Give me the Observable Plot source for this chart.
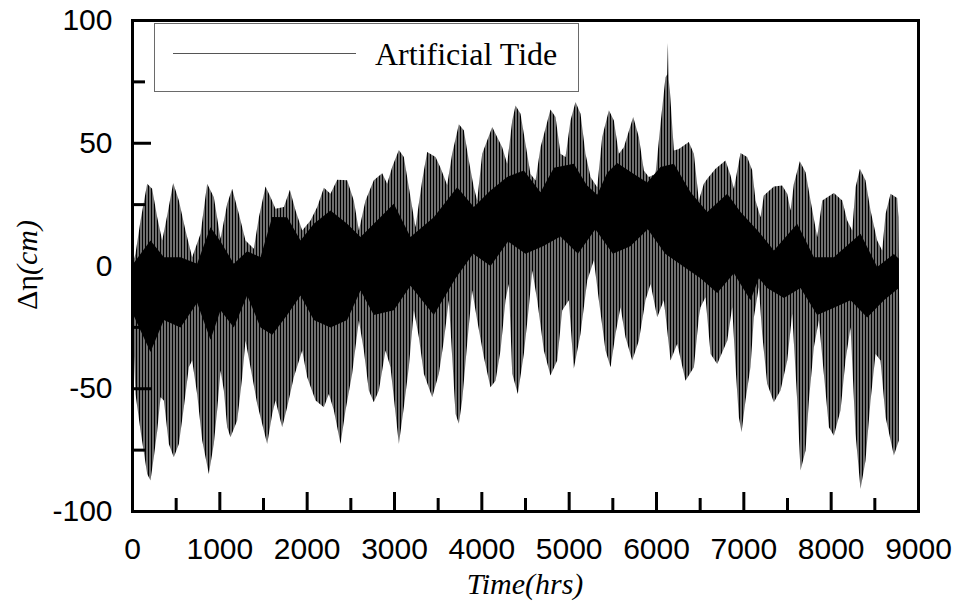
<!DOCTYPE html>
<html>
<head>
<meta charset="utf-8">
<script src="https://cdn.jsdelivr.net/npm/d3@7"></script>
<script src="https://cdn.jsdelivr.net/npm/@observablehq/plot@0.6"></script>
<style>
  body { margin: 0; background: #fff; }
  #wrap { position: relative; width: 959px; height: 605px; }
</style>
</head>
<body>
<div id="wrap"></div>
<script>
// Upper envelope of the tide signal [time (hrs), Δη (cm)]
const upperEnvelope = [[10,2],[34,5.0],[92,18.5],[168,33.5],[225,31.5],[283,19.9],[340,10.4],[397,20.6],[466,33.8],[531,26.7],[607,14.5],[683,3.6],[779,13.1],[855,33.5],[931,28.1],[1008,11.1],[1084,25.4],[1141,31.5],[1218,21.3],[1294,10.4],[1389,7.0],[1447,19.9],[1523,32.4],[1580,28.1],[1637,23.3],[1733,24.0],[1802,31.1],[1867,22.6],[1943,14.5],[2038,18.5],[2115,24.0],[2191,31.9],[2267,29.4],[2344,35.1],[2458,34.9],[2534,26.7],[2592,14.5],[2668,26.7],[2763,34.9],[2859,37.8],[2916,33.5],[2973,40.3],[3050,47.3],[3107,44.4],[3183,28.1],[3240,15.8],[3317,34.9],[3374,46.4],[3470,44.4],[3527,40],[3603,33],[3660,45.7],[3737,57.7],[3794,55.3],[3851,43.0],[3908,32.1],[3947,26.7],[4004,45.7],[4119,56.6],[4233,48.4],[4290,41.6],[4348,59.3],[4386,65.4],[4443,62.0],[4500,49.8],[4557,37.5],[4615,34.8],[4672,48.4],[4786,63.7],[4844,60.7],[4901,45.7],[4958,44.4],[5015,59.3],[5073,66.8],[5130,62.0],[5187,45.7],[5245,36.3],[5321,32.1],[5378,52.5],[5455,63.4],[5512,59.3],[5569,45.7],[5626,48.4],[5733,60.7],[5798,52.5],[5855,38.9],[5912,36.3],[5989,37.5],[6046,57.9],[6103,76.9],[6122,78],[6130,90.8],[6140,76],[6153,71.5],[6199,47.0],[6256,47.7],[6370,50.5],[6428,45.7],[6485,26.7],[6542,33.5],[6581,35.5],[6676,39.6],[6790,43.0],[6848,36.9],[6886,31.5],[6962,46.0],[7038,44.4],[7096,39.0],[7134,26.7],[7191,19.9],[7229,28.7],[7344,32.4],[7439,32.8],[7497,29.4],[7535,22.6],[7573,33.5],[7641,42.7],[7707,38.2],[7764,26.7],[7840,11.8],[7898,26.7],[8031,29.7],[8127,26.7],[8184,18.5],[8241,14.5],[8279,32.1],[8329,39.6],[8393,34.9],[8451,22.6],[8527,10.4],[8584,6.3],[8623,21.3],[8680,29.4],[8756,27.7],[8770,20]];

// Lower envelope [time (hrs), Δη (cm)]
const lowerEnvelope = [[10,-30],[34,-52.1],[92,-67.1],[168,-84.7],[206,-87.4],[244,-77.9],[283,-67.1],[321,-53.5],[359,-54.8],[416,-72.5],[473,-77.9],[531,-72.5],[588,-57.5],[645,-41.2],[683,-38.5],[740,-52.1],[798,-71.1],[874,-84.7],[931,-72.5],[969,-58.9],[1008,-42.6],[1046,-50.7],[1084,-65.7],[1122,-69.8],[1199,-62.9],[1256,-45.3],[1294,-30.4],[1351,-41.2],[1428,-56.2],[1542,-72.5],[1600,-60.3],[1637,-54.8],[1714,-65.7],[1771,-57.5],[1847,-45.3],[1943,-34.4],[2000,-45.3],[2096,-54.8],[2191,-57.5],[2248,-52.1],[2306,-58.9],[2382,-72.5],[2439,-58.9],[2515,-43.9],[2592,-22.2],[2649,-34.4],[2706,-50.7],[2763,-55.5],[2821,-50.7],[2897,-34.4],[2954,-41.2],[3050,-72.5],[3107,-57.5],[3164,-41.2],[3222,-18.1],[3279,-29.0],[3336,-43.9],[3432,-53.5],[3508,-43.9],[3565,-30.4],[3622,-14.0],[3699,-60.3],[3737,-64.3],[3775,-54.8],[3832,-31.7],[3889,-10.0],[3947,-22.2],[4023,-37.2],[4099,-49.4],[4157,-46.7],[4214,-34.4],[4271,-14.0],[4309,-7.3],[4348,-43.9],[4412,-52.1],[4481,-35.8],[4538,-16.8],[4577,-1.8],[4634,-14.0],[4710,-34.4],[4786,-44.6],[4863,-38.5],[4920,-18.1],[4996,-14.0],[5053,-41.9],[5130,-27.6],[5207,-5.9],[5283,2.3],[5340,-14.0],[5416,-34.4],[5474,-41.2],[5531,-27.6],[5588,-16.8],[5645,-29.0],[5722,-38.5],[5798,-30.4],[5874,-14.0],[5932,-7.3],[6008,-20.9],[6084,-14.0],[6161,-38.5],[6237,-31.7],[6332,-46.7],[6428,-41.2],[6485,-20.9],[6504,-16.8],[6561,-12.7],[6619,-35.8],[6695,-39.9],[6810,-30.4],[6867,-16.8],[6905,-41.2],[6943,-61.6],[6974,-67.7],[7019,-54.8],[7076,-41.2],[7115,-20.9],[7172,-8.7],[7210,-27.6],[7267,-48.0],[7344,-55.5],[7420,-50.7],[7497,-38.5],[7554,-19.5],[7611,-54.8],[7649,-83.3],[7707,-75.2],[7745,-54.8],[7802,-33.1],[7859,-22.2],[7916,-43.9],[7974,-65.7],[8031,-69.1],[8107,-58.9],[8164,-38.5],[8222,-24.9],[8279,-68.4],[8336,-90.8],[8393,-79.3],[8451,-54.8],[8508,-35.8],[8565,-38.5],[8623,-61.6],[8718,-77.2],[8775,-71.1],[8780,-20]];

// Dense (solid black) core of the signal: top and bottom [time (hrs), Δη (cm)]
const coreTop = [[10,1],[206,10.4],[359,3.6],[550,3.6],[740,0.9],[893,15.8],[1008,10],[1160,0.9],[1313,6],[1466,3.6],[1600,20],[1771,19.9],[1924,10.4],[2076,17.2],[2267,22.6],[2458,17.2],[2611,11.8],[2763,17.2],[2992,25.4],[3183,11.8],[3450,19.9],[3718,32.1],[3908,24],[4099,30.8],[4290,36.3],[4481,38.9],[4672,30],[4825,40],[5053,41.6],[5200,33],[5321,29],[5436,38],[5550,42],[5741,37.5],[5894,34],[6046,40.3],[6199,41.6],[6390,30],[6581,22],[6810,29.4],[6962,22],[7170,14],[7344,6.3],[7611,17.2],[7802,3.6],[8031,3.6],[8336,13.1],[8527,-0.4],[8718,4.9],[8775,3]];
const coreBottom = [[10,-20],[206,-35],[359,-22],[550,-25],[740,-15],[893,-30],[1008,-18],[1160,-25],[1313,-12],[1466,-25],[1600,-28],[1771,-20],[1924,-12],[2076,-22],[2267,-25],[2458,-22],[2611,-10],[2763,-20],[2992,-18],[3183,-8],[3450,-20],[3700,-5],[3900,5],[4100,0],[4300,10],[4500,5],[4700,8],[4900,12],[5100,5],[5300,15],[5500,5],[5700,8],[5900,15],[6100,5],[6300,0],[6504,-5],[6695,-11],[6886,-3],[7076,-14],[7172,-5],[7267,-9],[7459,-13],[7649,-9],[7840,-20],[8031,-17],[8222,-14],[8413,-21],[8604,-14],[8775,-9]];

// Axis ticks and labels
const xTickLabels = [0,1000,2000,3000,4000,5000,6000,7000,8000,9000];
const xMajorTicks = [1000,2000,3000,4000,5000,6000,7000,8000];
const xMinorTicks = [500,1500,2500,3500,4500,5500,6500,7500,8500];
const yTickLabels = [-100,-50,0,50,100];
const yMajorTicks = [-50,0,50];
const yMinorTicks = [-75,-25,25,75];
const legendLabel = "Artificial Tide";
const xTitle = "Time(hrs)";

// Closed outlines (upper path left→right, then lower path right→left)
const toPts = a => a.map(([t, v]) => ({t, v}));
const envelope = toPts(upperEnvelope).concat(toPts(lowerEnvelope).reverse());
const core = toPts(coreTop).concat(toPts(coreBottom).reverse());

const W = 959, H = 605, mt = 20, mb = 94, ml = 132, mr = 41;
const plotH = H - mt - mb, plotW = W - ml - mr;
const STRIPE_KEY = "#010203";

const chart = Plot.plot({
  width: W, height: H,
  marginTop: mt, marginBottom: mb, marginLeft: ml, marginRight: mr,
  style: {fontFamily: "'Liberation Sans', Arial, sans-serif", fontSize: "30px", color: "#000", background: "#fff", overflow: "visible"},
  x: {domain: [0, 9000], ticks: xTickLabels, tickSize: 0, tickPadding: 26, label: null, tickFormat: d => String(d)},
  y: {domain: [-100, 100], ticks: yTickLabels, tickSize: 0, tickPadding: 20, label: null, tickFormat: d => String(d)},
  marks: [
    Plot.line(envelope, {x: "t", y: "v", fill: STRIPE_KEY, stroke: "none", curve: "linear"}),
    Plot.line(core, {x: "t", y: "v", fill: "black", stroke: "none", curve: "linear"}),
    Plot.ruleX(xMajorTicks, {insetTop: plotH - 19, strokeWidth: 3}),
    Plot.ruleX(xMinorTicks, {insetTop: plotH - 13, strokeWidth: 3}),
    Plot.ruleY(yMajorTicks, {insetRight: plotW - 19, strokeWidth: 3}),
    Plot.ruleY(yMinorTicks, {insetRight: plotW - 13, strokeWidth: 3}),
    Plot.frame({strokeWidth: 3})
  ]
});

document.getElementById("wrap").appendChild(chart);

const svg = d3.select(chart);
// vertical-stroke texture for the oscillating part of the signal
const defs = svg.insert("defs", ":first-child");
const pat = defs.append("pattern").attr("id", "stripes").attr("patternUnits", "userSpaceOnUse")
  .attr("width", 3).attr("height", 12);
pat.append("rect").attr("width", 3).attr("height", 12).attr("fill", "#dcdcdc");
pat.append("rect").attr("width", 2).attr("height", 12).attr("fill", "#000");
svg.selectAll("g").filter(function() {
  const f = (this.getAttribute("fill") || "").toLowerCase();
  return f === STRIPE_KEY || f === "rgb(1, 2, 3)";
}).attr("fill", "url(#stripes)");

const serif = "'Liberation Serif', 'Times New Roman', serif";
// y title
const yl = svg.append("text")
  .attr("transform", "translate(37,265) rotate(-90)")
  .attr("text-anchor", "middle")
  .style("font-family", serif).style("font-size", "30px").attr("fill", "#000");
yl.append("tspan").text("Δη");
yl.append("tspan").attr("font-style", "italic").text("(cm)");
// x title
svg.append("text").attr("x", 525).attr("y", 594).attr("text-anchor", "middle")
  .style("font-family", serif).style("font-size", "30px").style("font-style", "italic")
  .attr("fill", "#000").text(xTitle);

// legend box
const lg = svg.append("g");
lg.append("rect").attr("x", 154.5).attr("y", 23.5).attr("width", 424).attr("height", 68)
  .attr("fill", "#fff").attr("stroke", "#6a6a6a").attr("stroke-width", 1);
lg.append("line").attr("x1", 173).attr("x2", 356).attr("y1", 53.5).attr("y2", 53.5)
  .attr("stroke", "#555").attr("stroke-width", 1);
lg.append("text").attr("x", 375).attr("y", 65).attr("text-anchor", "start")
  .style("font-family", serif).style("font-size", "32px").attr("fill", "#000").text(legendLabel);
</script>
</body>
</html>
